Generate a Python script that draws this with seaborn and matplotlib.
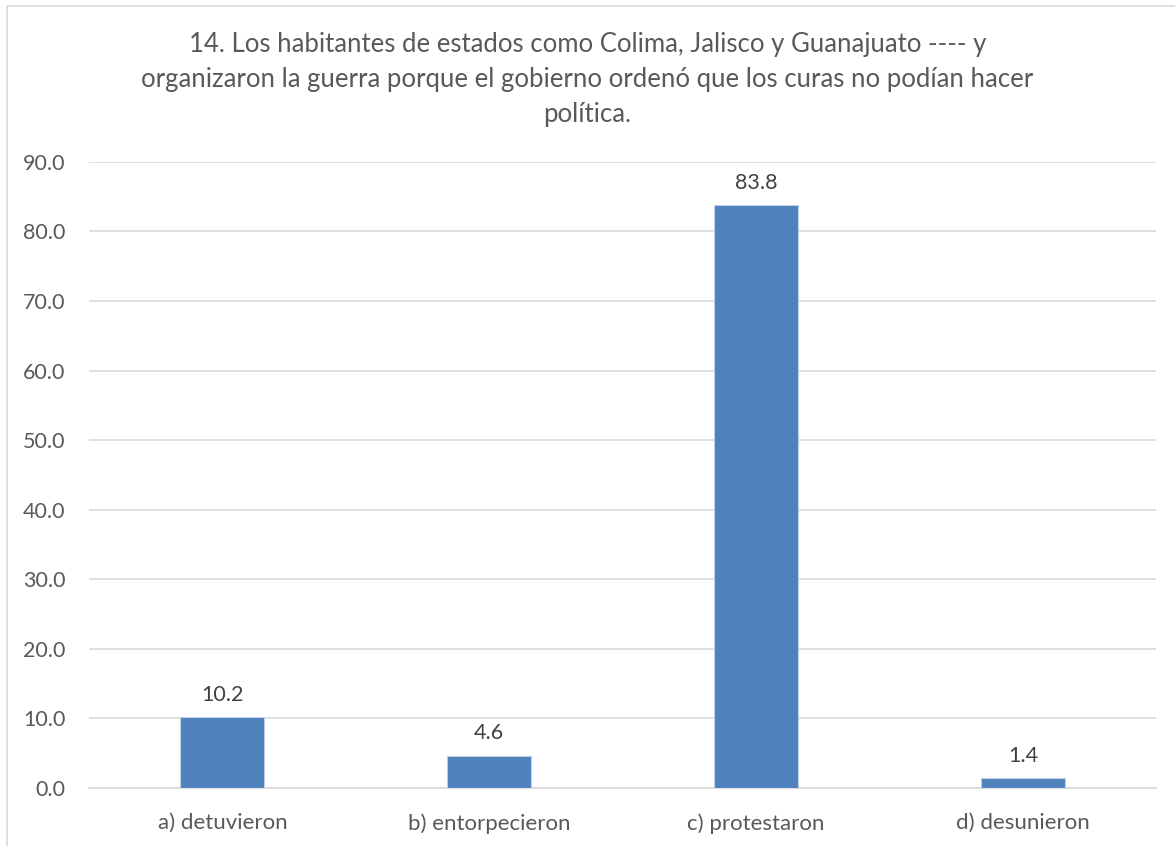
import matplotlib
matplotlib.use("Agg")
import matplotlib.pyplot as plt
import seaborn as sns
import pandas as pd
from matplotlib.patches import Rectangle

# data
categories = ["a) detuvieron", "b) entorpecieron", "c) protestaron", "d) desunieron"]
values = [10.2, 4.6, 83.8, 1.4]
yticks = [0, 10, 20, 30, 40, 50, 60, 70, 80, 90]
title = ("14. Los habitantes de estados como Colima, Jalisco y Guanajuato ---- y\n"
         "organizaron la guerra porque el gobierno ordenó que los curas no podían hacer\n"
         "política.")

sns.set_style("white")
plt.rcParams['font.family'] = ['Lato', 'DejaVu Sans']
txt = "#595959"

df = pd.DataFrame({"cat": categories, "val": values})

fig = plt.figure(figsize=(11.75, 8.46), dpi=100)
ax = fig.add_axes([0.0757, 0.0686, 0.9085, 0.74])

sns.barplot(data=df, x="cat", y="val", color="#4F81BD", width=0.315,
            edgecolor="#BFD0E6", linewidth=0.8, saturation=1, ax=ax, zorder=3)

ax.set_ylim(0, 90)
ax.set_yticks(yticks)
ax.set_yticklabels(["%.1f" % t for t in yticks])
ax.yaxis.grid(True, color="#D9D9D9", linewidth=1.2, zorder=0)
ax.set_axisbelow(True)
ax.set_xlabel("")
ax.set_ylabel("")
for s in ["top", "right", "left"]:
    ax.spines[s].set_visible(False)
ax.spines["bottom"].set_color("#D9D9D9")
ax.spines["bottom"].set_linewidth(1.2)
ax.tick_params(axis="y", length=0, labelsize=15.5, colors=txt, pad=17)
ax.tick_params(axis="x", length=0, labelsize=16, colors=txt, pad=18)

for p, v in zip(ax.patches, values):
    ax.annotate("%.1f" % v, (p.get_x() + p.get_width() / 2, p.get_height()),
                xytext=(0, 9), textcoords="offset points", ha="center", va="bottom",
                fontsize=15.5, color="#404040")

fig.text(0.5, 0.962, title, ha="center", va="top", fontsize=18.5, color=txt,
         linespacing=1.5)

# chart border
fig.patches.append(Rectangle((7 / 1175, -0.01), 1.02, 1 - 6 / 846 + 0.01,
                             transform=fig.transFigure, fill=False,
                             edgecolor="#D9D9D9", linewidth=1.2))

fig.savefig("out.png", dpi=100)
